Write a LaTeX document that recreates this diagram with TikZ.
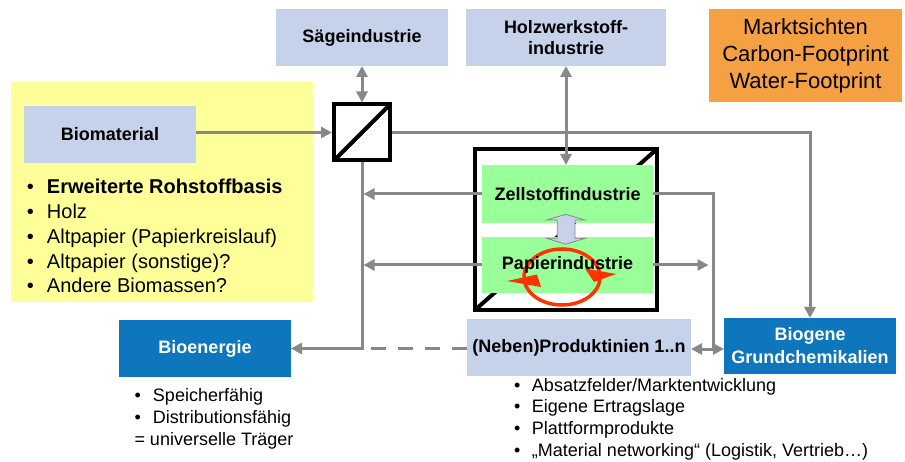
\documentclass[tikz,border=0pt]{standalone}
\usepackage{fontspec}
\setmainfont{Liberation Sans}
\usetikzlibrary{arrows.meta}
\definecolor{lblue}{RGB}{198,210,234}
\definecolor{yel}{RGB}{255,255,153}
\definecolor{grn}{RGB}{153,255,153}
\definecolor{org}{RGB}{245,160,67}
\definecolor{dblue}{RGB}{14,118,188}
\definecolor{gry}{RGB}{136,136,136}
\definecolor{rd}{RGB}{255,51,0}
\begin{document}
\begin{tikzpicture}[x=1pt,y=-1pt,
  box/.style={inner sep=0pt, outer sep=0pt, align=center, font=\fontsize{18}{21}\selectfont\bfseries},
  lbox/.style={box, fill=lblue},
  bbox/.style={box, fill=dblue, text=white},
  gbox/.style={box, fill=grn},
  conn/.style={draw=gry, line width=3pt},
  tip/.style={-{Triangle[length=11pt,width=11pt]}},
  tipboth/.style={{Triangle[length=11pt,width=11pt]}-{Triangle[length=11pt,width=11pt]}},
  listtext/.style={anchor=base west, inner sep=0pt, outer sep=0pt}
]
\useasboundingbox (0,0) rectangle (905,462);
\fill[white] (0,0) rectangle (905,462);

% yellow region
\fill[yel] (11,82) rectangle (313,302);

% boxes
\node[lbox, minimum width=172pt, minimum height=57pt] (saege) at (362,37.5) {Sägeindustrie};
\node[lbox, minimum width=200pt, minimum height=57pt, font=\fontsize{18}{21}\selectfont\bfseries] (holz) at (566,37.5) {Holzwerkstoff-\\industrie};
\node[box, fill=org, minimum width=193pt, minimum height=93pt, font=\fontsize{22}{27}\selectfont] (markt) at (805.5,55.5) {Marktsichten\\Carbon-Footprint\\Water-Footprint};
\node[lbox, minimum width=172pt, minimum height=57pt] (biom) at (110,134.5) {Biomaterial};

% separator
\node[draw=black, line width=4pt, minimum width=56pt, minimum height=56pt, inner sep=0pt] (sep) at (362,132.5) {};
\draw[line width=4pt] ([shift={(-28,28)}]sep.center) -- ([shift={(28,-28)}]sep.center);

% central box
\node[draw=black, line width=4pt, minimum width=182pt, minimum height=161pt, inner sep=0pt] (central) at (566,229.5) {};
\draw[line width=4pt] ([shift={(-91,80.5)}]central.center) -- ([shift={(91,-80.5)}]central.center);

\node[gbox, minimum width=171pt, minimum height=58pt] (zell) at (567.5,194) {Zellstoffindustrie};
\node[gbox, minimum width=171pt, minimum height=56pt] (pap) at (567.5,265) {};

% bottom boxes
\node[bbox, minimum width=172pt, minimum height=57pt] (bioe) at (205,348.5) {Bioenergie};
\node[lbox, minimum width=224pt, minimum height=57pt] (neben) at (579,347.5) {(Neben)Produktinien 1..n};
\node[bbox, minimum width=172pt, minimum height=56pt, font=\fontsize{18}{23}\selectfont\bfseries] (biog) at (810,346) {Biogene\\Grundchemikalien};

% block double arrow between Zellstoff and Papier
\filldraw[fill=lblue, draw=gry, line width=0.8pt]
  (565.7,214.3) -- (585,220) -- (575,220) -- (575,238.3) -- (585,238.3) -- (565.7,244.3)
  -- (546.7,238.3) -- (557.3,238.3) -- (557.3,220) -- (546.7,220) -- cycle;

% red circulation
\draw[rd, line width=3.5pt] (562,277) ellipse [x radius=38pt, y radius=28pt];
\fill[rd] (507,281) -- (537,274.5) -- (541,287) -- cycle;
\fill[rd] (616,274) -- (585,268.5) -- (594,282) -- cycle;
\node[box, anchor=center] (paptext) at (pap.center) {Papierindustrie};

% connectors
\coordinate (bj) at (sep |- bioe);
\coordinate (jn) at (713,349);
\draw[conn, tip] (biom.east |- sep) -- (sep.west);
\draw[conn, tipboth] (sep.north) -- (saege.south);
\draw[conn, tip] (sep.east) -- (sep.east -| biog) -- (biog.north);
\draw[conn, tipboth] (holz.south) -- (holz.south |- zell.north);
\draw[conn, tip] (sep.south) -- (bj) -- (bioe.east);
\draw[conn, tip] (zell.west) -- ([xshift=1.5pt]zell.west -| sep);
\draw[conn, tip] (pap.west) -- ([xshift=1.5pt]pap.west -| sep);
\draw[conn, dash pattern=on 15pt off 12pt] (neben.west |- bj) -- ([xshift=8pt]bj);
\draw[conn] (zell.east) -- (zell.east -| jn) -- (jn);
\draw[conn, tip] (pap.east) -- ([xshift=-4.5pt]pap.east -| jn);
\draw[conn, tip] (jn) -- (jn -| neben.east);
\draw[conn, tip] (jn) -- (jn -| biog.west);

% lists
\node[listtext, font=\fontsize{20}{24.7}\selectfont] (rohlist) at (27,194) {%
\begin{tabular}[t]{@{}l@{}}
\makebox[20pt][l]{\textbullet}\textbf{Erweiterte Rohstoffbasis}\\
\makebox[20pt][l]{\textbullet}Holz\\
\makebox[20pt][l]{\textbullet}Altpapier (Papierkreislauf)\\
\makebox[20pt][l]{\textbullet}Altpapier (sonstige)?\\
\makebox[20pt][l]{\textbullet}Andere Biomassen?
\end{tabular}};
\node[listtext, font=\fontsize{18}{22}\selectfont] (bioelist) at (134.5,401) {%
\begin{tabular}[t]{@{}l@{}}
\makebox[18.5pt][l]{\textbullet}Speicherfähig\\
\makebox[18.5pt][l]{\textbullet}Distributionsfähig\\
= universelle Träger
\end{tabular}};
\node[listtext, font=\fontsize{18}{21.7}\selectfont] (nebenlist) at (514,391) {%
\begin{tabular}[t]{@{}l@{}}
\makebox[18pt][l]{\textbullet}Absatzfelder/Marktentwicklung\\
\makebox[18pt][l]{\textbullet}Eigene Ertragslage\\
\makebox[18pt][l]{\textbullet}Plattformprodukte\\
\makebox[18pt][l]{\textbullet}„Material networking“ (Logistik, Vertrieb…)
\end{tabular}};
\end{tikzpicture}
\end{document}
